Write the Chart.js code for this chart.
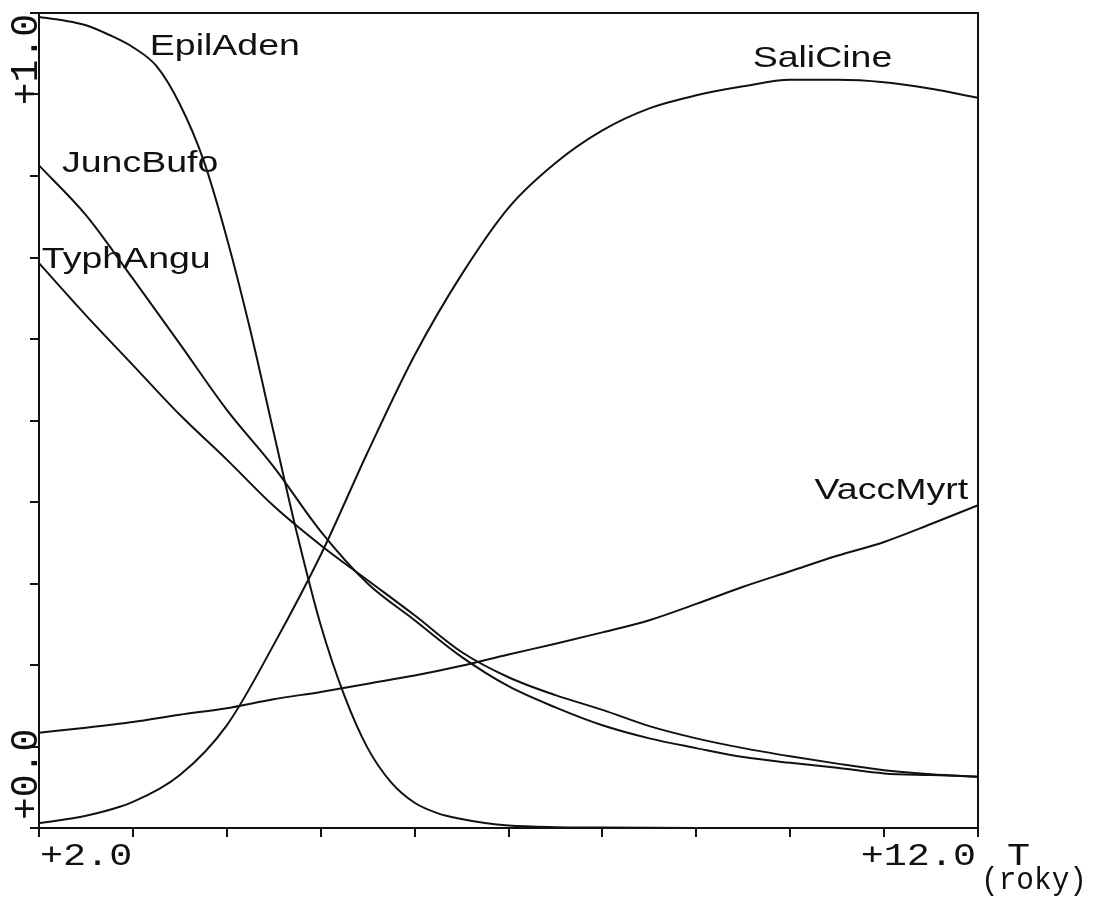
<!DOCTYPE html>
<html>
<head>
  <meta charset="UTF-8">
  <title>Sukcese druhů</title>
  <script src="https://cdn.jsdelivr.net/npm/chart.js"></script>
  <style>
    body { margin: 0; background: #fff; }
    #wrap { width: 1095px; height: 906px; }
  </style>
</head>
<body>
  <div id="wrap"><canvas id="chart"></canvas></div>
  <script>
    // roky (T) a hodnoty
    const years = [2, 2.5, 3, 3.5, 4, 4.5, 5, 5.5, 6, 6.5, 7, 7.5, 8, 8.5, 9, 9.5, 10, 10.5, 11, 11.5, 12];
    const epilYears = [2, 2.25, 2.5, 2.75, 3, 3.25, 3.5, 3.75, 4, 4.25, 4.5, 4.75, 5, 5.25, 5.5, 5.75, 6, 6.25, 6.5, 6.75, 7, 7.5, 8, 9, 10, 11, 12];

    const epilAden = [0.995, 0.991, 0.985, 0.973, 0.958, 0.935, 0.888, 0.820, 0.724, 0.611, 0.485, 0.360, 0.249, 0.163, 0.098, 0.056, 0.031, 0.018, 0.011, 0.006, 0.003, 0.001, 0.0005, 0, 0, 0, 0];
    const juncBufo = [0.813, 0.752, 0.674, 0.594, 0.513, 0.443, 0.364, 0.300, 0.255, 0.210, 0.174, 0.148, 0.126, 0.110, 0.098, 0.087, 0.080, 0.074, 0.067, 0.065, 0.063];
    const typhAngu = [0.693, 0.629, 0.568, 0.507, 0.452, 0.395, 0.347, 0.304, 0.261, 0.216, 0.185, 0.163, 0.145, 0.125, 0.110, 0.098, 0.088, 0.079, 0.071, 0.066, 0.063];
    const saliCine = [0.006, 0.015, 0.032, 0.065, 0.126, 0.225, 0.335, 0.461, 0.580, 0.679, 0.761, 0.816, 0.856, 0.883, 0.899, 0.910, 0.918, 0.918, 0.915, 0.907, 0.896];
    const vaccMyrt = [0.117, 0.123, 0.130, 0.139, 0.147, 0.158, 0.167, 0.177, 0.187, 0.199, 0.213, 0.226, 0.240, 0.255, 0.275, 0.296, 0.315, 0.334, 0.351, 0.373, 0.396];

    const names = ['EpilAden', 'JuncBufo', 'TyphAngu', 'SaliCine', 'VaccMyrt'];
    // kde stojí popisky (v jednotkách os: rok, hodnota)
    const labelX = [3.18, 2.245, 2.03, 9.6, 10.26];
    const labelY = [0.948, 0.805, 0.687, 0.934, 0.404];

    const pts = (xs, ys) => ys.map((v, i) => ({x: xs[i], y: v}));
    const line = (d) => ({data: d, borderColor: '#111', borderWidth: 2, pointRadius: 0,
      cubicInterpolationMode: 'monotone', fill: false, clip: false});

    const textPlugin = {
      id: 'texts',
      afterDraw(chart) {
        const {ctx, chartArea: a, scales: {x, y}} = chart;
        ctx.save();
        ctx.strokeStyle = '#111';
        ctx.lineWidth = 2;
        ctx.strokeRect(a.left, a.top, a.right - a.left, a.bottom - a.top);
        ctx.fillStyle = '#111';
        ctx.textBaseline = 'alphabetic';

        // popisky křivek
        ctx.font = '30px "Liberation Sans", Arial, sans-serif';
        ctx.textAlign = 'left';
        names.forEach((n, i) => {
          ctx.save();
          ctx.translate(x.getPixelForValue(labelX[i]), y.getPixelForValue(labelY[i]));
          ctx.scale(1.25, 1);
          ctx.fillText(n, 0, 0);
          ctx.restore();
        });

        // osa x
        const put = (t, px, py, align, sx) => {
          ctx.save();
          ctx.translate(px, py);
          ctx.scale(sx, 1);
          ctx.textAlign = align;
          ctx.fillText(t, 0, 0);
          ctx.restore();
        };
        ctx.font = '32px "Liberation Mono", "Courier New", monospace';
        put('+2.0', x.getPixelForValue(2) + 1, a.bottom + 37, 'left', 1.2);
        put('+12.0', x.getPixelForValue(12) - 2, a.bottom + 37, 'right', 1.2);
        put('T', a.right + 29, a.bottom + 37, 'left', 1.2);
        put('(roky)', a.right + 3, a.bottom + 61, 'left', 0.92);

        // osa y (svisle)
        ctx.font = '38px "Liberation Mono", "Courier New", monospace';
        ctx.save();
        ctx.translate(a.left - 2, y.getPixelForValue(1) + 1);
        ctx.rotate(-Math.PI / 2);
        ctx.textAlign = 'right';
        ctx.fillText('+1.0', 0, 0);
        ctx.restore();
        ctx.save();
        ctx.translate(a.left - 2, y.getPixelForValue(0) - 8);
        ctx.rotate(-Math.PI / 2);
        ctx.textAlign = 'left';
        ctx.fillText('+0.0', 0, 0);
        ctx.restore();
        ctx.restore();
      }
    };

    new Chart(document.getElementById('chart'), {
      type: 'line',
      data: {
        datasets: [
          line(pts(epilYears, epilAden)),
          line(pts(years, juncBufo)),
          line(pts(years, typhAngu)),
          line(pts(years, saliCine)),
          line(pts(years, vaccMyrt))
        ]
      },
      options: {
        responsive: true,
        maintainAspectRatio: false,
        animation: false,
        parsing: false,
        layout: {padding: {top: 13, right: 117, left: 0, bottom: 0}},
        plugins: {legend: {display: false}, tooltip: {enabled: false}},
        scales: {
          x: {
            type: 'linear', min: 2, max: 12,
            ticks: {stepSize: 1, display: false},
            grid: {drawOnChartArea: false, drawTicks: true, tickLength: 9, color: '#111', lineWidth: 2},
            border: {display: true, color: '#111', width: 2},
            afterFit: s => { s.height = 78; }
          },
          y: {
            type: 'linear', min: 0, max: 1,
            ticks: {stepSize: 0.1, display: false},
            grid: {drawOnChartArea: false, drawTicks: true, tickLength: 9, color: '#111', lineWidth: 2},
            border: {display: true, color: '#111', width: 2},
            afterFit: s => { s.width = 39; }
          }
        }
      },
      plugins: [textPlugin]
    });
  </script>
</body>
</html>
